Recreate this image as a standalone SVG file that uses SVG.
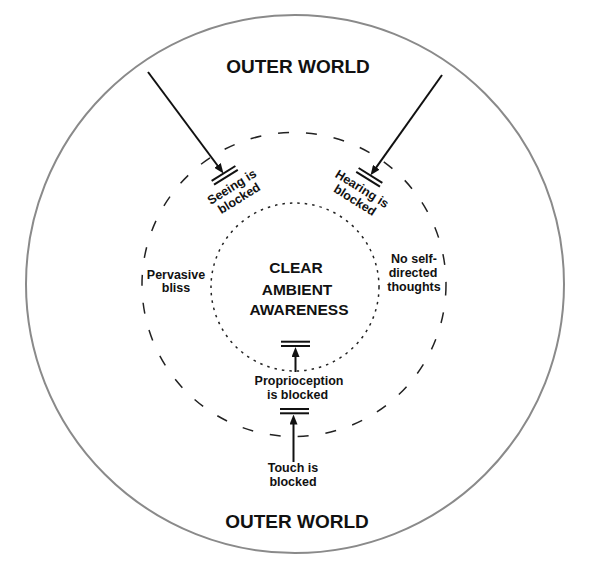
<svg xmlns="http://www.w3.org/2000/svg" width="590" height="574" viewBox="0 0 590 574">
<style>
text{font-family:"Liberation Sans",Arial,sans-serif;font-weight:bold;fill:#111;text-anchor:middle}
.big{font-size:19px}
.mid{font-size:15.5px}
.sm{font-size:12.5px}
.bar{stroke:#111;stroke-width:2}
.arr{stroke:#111;stroke-width:2;fill:none;marker-end:url(#ah)}
</style>
<defs>
<marker id="ah" viewBox="0 0 10 8" refX="5" refY="4" markerWidth="10" markerHeight="8" markerUnits="userSpaceOnUse" orient="auto">
<path d="M0,0 L10,4 L0,8 z" fill="#111"/>
</marker>
</defs>
<rect width="590" height="574" fill="#fff"/>
<g id="outer-world">
<circle cx="295" cy="284" r="269" fill="none" stroke="#8a8a8a" stroke-width="2"/>
<text class="big" x="298" y="73">OUTER WORLD</text>
<text class="big" x="297" y="528">OUTER WORLD</text>
</g>
<g id="middle-ring">
<circle cx="294" cy="284.5" r="152" fill="none" stroke="#222" stroke-width="1.5" stroke-dasharray="11 17"/>
<text class="sm" x="176" y="279">Pervasive</text>
<text class="sm" x="176" y="292">bliss</text>
<text class="sm" x="414" y="263">No self-</text>
<text class="sm" x="413" y="277">directed</text>
<text class="sm" x="414" y="291">thoughts</text>
</g>
<g id="center">
<circle cx="295" cy="287" r="84" fill="none" stroke="#222" stroke-width="1.5" stroke-dasharray="2.5 5"/>
<text class="mid" x="296" y="273">CLEAR</text>
<text class="mid" x="297" y="295">AMBIENT</text>
<text class="mid" x="299" y="315">AWARENESS</text>
</g>
<g id="seeing" transform="translate(232,187) rotate(-32)">
<line class="bar" x1="-14" y1="-16" x2="14" y2="-16"/>
<line class="bar" x1="-14" y1="-11.5" x2="14" y2="-11.5"/>
<text class="sm" x="0" y="4">Seeing is</text>
<text class="sm" x="0" y="17.5">blocked</text>
</g>
<g id="hearing" transform="translate(362,189) rotate(32)">
<line class="bar" x1="-14" y1="-16" x2="14" y2="-16"/>
<line class="bar" x1="-14" y1="-11.5" x2="14" y2="-11.5"/>
<text class="sm" x="0" y="4">Hearing is</text>
<text class="sm" x="0" y="17.5">blocked</text>
</g>
<g id="proprioception">
<line class="bar" x1="281" y1="341.7" x2="310" y2="341.7"/>
<line class="bar" x1="281" y1="346" x2="310" y2="346"/>
<text class="sm" x="299" y="385">Proprioception</text>
<text class="sm" x="297.5" y="398.5">is blocked</text>
</g>
<g id="touch">
<line class="bar" x1="280" y1="409" x2="309" y2="409"/>
<line class="bar" x1="280" y1="413.3" x2="309" y2="413.3"/>
<text class="sm" x="293" y="472">Touch is</text>
<text class="sm" x="293" y="485.5">blocked</text>
</g>
<g id="connectors">
<line class="arr" x1="148" y1="72" x2="220.5" y2="169.5"/>
<line class="arr" x1="442" y1="75" x2="373.4" y2="171.3"/>
<line class="arr" x1="295.5" y1="372" x2="295.5" y2="352"/>
<line class="arr" x1="293.5" y1="462" x2="293.5" y2="419.5"/>
</g>
</svg>
